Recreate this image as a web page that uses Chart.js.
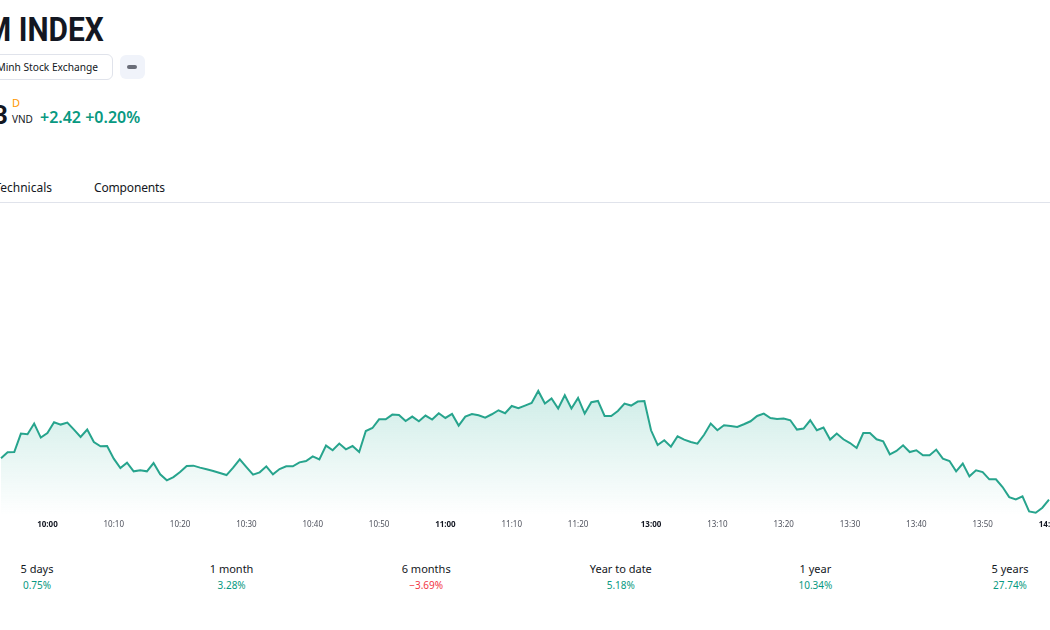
<!DOCTYPE html>
<html><head><meta charset="utf-8">
<script src="https://cdn.jsdelivr.net/npm/chart.js@4.4.1/dist/chart.umd.min.js"></script>
<style>
html,body{margin:0;padding:0;background:#fff;}
body{width:1050px;height:630px;overflow:hidden;position:relative;font-family:"Noto Sans",sans-serif;color:#131722;}
.abs{position:absolute;white-space:nowrap;}
#title{right:946px;top:12px;font:700 34px/34px Roboto,sans-serif;transform:scaleX(0.88);transform-origin:right center;}
#pill{left:-30px;top:54px;width:143px;height:26px;box-sizing:border-box;border:1px solid #e0e3eb;border-radius:6px;}
#exch{right:952px;top:54px;font-size:10.2px;line-height:26px;}
#btn{left:120px;top:55px;width:25px;height:24px;background:#f0f3fa;border-radius:6px;}
#dash{left:127px;top:65px;width:10px;height:4px;background:#6a6d78;border-radius:2px;}
#price{right:1042px;top:102px;font:700 26px/26px Roboto,sans-serif;}
#dmark{left:12px;top:97px;font-size:11px;line-height:11px;color:#ff9800;}
#cur{left:12px;top:114px;font-size:10px;line-height:10px;}
#chg{left:40px;top:110px;font-size:16px;line-height:15px;font-weight:600;color:#089981;}
#tab1{right:998px;top:178px;font-size:12px;line-height:20px;}
#tab2{left:94px;top:178px;font-size:12px;line-height:20px;letter-spacing:-0.15px;}
#rule{left:0;top:202px;width:1050px;height:1px;background:#e0e3eb;}
.st{position:absolute;width:140px;text-align:center;}
.st .l{position:absolute;left:0;width:140px;top:0;font-size:11px;line-height:16px;color:#131722;}
.st .v{position:absolute;left:0;width:140px;top:16px;font-size:10px;line-height:16px;}
#c{position:absolute;left:-39px;top:200px;}
</style>
</head><body>
<div class="abs" id="title">VIETNAM INDEX</div>
<div class="abs" id="pill"></div>
<div class="abs" id="exch">Ho Chi Minh Stock Exchange</div>
<div class="abs" id="btn"></div>
<div class="abs" id="dash"></div>
<div class="abs" id="price">1,209.03</div>
<div class="abs" id="dmark">D</div>
<div class="abs" id="cur">VND</div>
<div class="abs" id="chg">+2.42 +0.20%</div>
<div class="abs" id="tab1">Technicals</div>
<div class="abs" id="tab2">Components</div>
<div class="abs" id="rule"></div>
<div id="stats"></div>
<canvas id="c" width="1128" height="335"></canvas>
<script>
const times = [
"9:53","9:54","9:55","9:56","9:57","9:58","9:59",
"10:00","10:01","10:02","10:03","10:04","10:05","10:06","10:07","10:08","10:09",
"10:10","10:11","10:12","10:13","10:14","10:15","10:16","10:17","10:18","10:19",
"10:20","10:21","10:22","10:23","10:24","10:25","10:26","10:27","10:28","10:29",
"10:30","10:31","10:32","10:33","10:34","10:35","10:36","10:37","10:38","10:39",
"10:40","10:41","10:42","10:43","10:44","10:45","10:46","10:47","10:48","10:49",
"10:50","10:51","10:52","10:53","10:54","10:55","10:56","10:57","10:58","10:59",
"11:00","11:01","11:02","11:03","11:04","11:05","11:06","11:07","11:08","11:09",
"11:10","11:11","11:12","11:13","11:14","11:15","11:16","11:17","11:18","11:19",
"11:20","11:21","11:22","11:23","11:24","11:25","11:26","11:27","11:28","11:29","11:30",
"13:00","13:01","13:02","13:03","13:04","13:05","13:06","13:07","13:08","13:09",
"13:10","13:11","13:12","13:13","13:14","13:15","13:16","13:17","13:18","13:19",
"13:20","13:21","13:22","13:23","13:24","13:25","13:26","13:27","13:28","13:29",
"13:30","13:31","13:32","13:33","13:34","13:35","13:36","13:37","13:38","13:39",
"13:40","13:41","13:42","13:43","13:44","13:45","13:46","13:47","13:48","13:49",
"13:50","13:51","13:52","13:53","13:54","13:55","13:56","13:57","13:58","13:59",
"14:00"];
const values = [
1213.20,1213.80,1213.83,1215.67,1215.60,1216.67,1215.27,1215.73,1216.80,1216.57,
1216.77,1216.07,1215.33,1216.07,1214.83,1214.40,1214.43,1213.17,1212.23,1212.77,
1211.90,1212.00,1211.90,1212.73,1211.60,1211.00,1211.33,1211.83,1212.43,1212.47,
1212.27,1212.10,1211.93,1211.73,1211.53,1212.27,1213.10,1212.33,1211.57,1211.80,
1212.40,1211.60,1212.13,1212.40,1212.40,1212.80,1212.93,1213.40,1213.10,1214.47,
1214.00,1214.67,1214.10,1214.43,1213.83,1215.93,1216.23,1217.10,1217.10,1217.57,
1217.53,1216.93,1217.37,1216.90,1217.47,1217.07,1217.70,1217.23,1217.63,1216.47,
1217.37,1217.63,1217.50,1217.27,1217.60,1218.00,1217.70,1218.43,1218.20,1218.47,
1218.73,1219.93,1218.67,1219.17,1218.17,1219.50,1218.17,1219.23,1217.67,1218.80,
1218.93,1217.43,1217.43,1217.93,1218.67,1218.47,1218.87,1218.93,1216.00,1214.53,
1215.00,1214.37,1215.40,1215.07,1214.83,1214.67,1215.55,1216.67,1216.00,1216.50,
1216.43,1216.33,1216.60,1216.90,1217.43,1217.67,1217.23,1217.13,1217.17,1217.00,
1216.07,1216.17,1217.00,1216.00,1216.27,1215.07,1215.67,1215.10,1214.73,1214.23,
1215.73,1215.73,1215.10,1214.90,1213.60,1213.93,1214.50,1213.83,1214.00,1213.50,
1213.50,1214.07,1213.17,1212.93,1211.90,1212.67,1211.40,1212.00,1211.83,1211.10,
1211.10,1210.33,1209.33,1209.10,1209.40,1207.90,1207.77,1208.27,1209.07];
const tickLabels = ["10:00","10:10","10:20","10:30","10:40","10:50","11:00","11:10","11:20",
"13:00","13:10","13:20","13:30","13:40","13:50","14:00"];
const boldTicks = ["10:00","11:00","13:00","14:00"];
const periods = ["5 days","1 month","6 months","Year to date","1 year","5 years"];
const changes = ["0.75%","3.28%","\u22123.69%","5.18%","10.34%","27.74%"];
const yMin = 1207.5, yMax = 1238;

// performance strip
const stats = document.getElementById('stats');
periods.forEach((p,k)=>{
  const d = document.createElement('div');
  d.className='st';
  d.style.left = (37 + 194.6*k - 70) + 'px';
  d.style.top = '561px';
  const neg = changes[k].startsWith('\u2212');
  d.innerHTML = '<div class="l">'+p+'</div><div class="v" style="color:'+(neg?'#f23645':'#089981')+'">'+changes[k]+'</div>';
  stats.appendChild(d);
});

Chart.defaults.font.family = '"Noto Sans", sans-serif';
const ctx = document.getElementById('c').getContext('2d');
new Chart(ctx, {
  type: 'line',
  data: {
    labels: times,
    datasets: [{
      data: values,
      borderColor: '#27a48d',
      borderWidth: 2,
      pointRadius: 0,
      tension: 0,
      fill: 'start',
      backgroundColor: (c) => {
        const ch = c.chart, a = ch.chartArea;
        if (!a) return 'rgba(34,171,148,0.1)';
        const top = ch.scales.y.getPixelForValue(Math.max(...values));
        const g = ch.ctx.createLinearGradient(0, top, 0, a.bottom);
        g.addColorStop(0, 'rgba(34,171,148,0.22)');
        g.addColorStop(1, 'rgba(34,171,148,0)');
        return g;
      }
    }]
  },
  options: {
    responsive: false,
    animation: false,
    events: [],
    layout: { padding: { left: 40, right: 40, top: 10, bottom: 0 } },
    plugins: { legend: { display: false }, tooltip: { enabled: false } },
    scales: {
      x: {
        type: 'category',
        offset: false,
        grid: { display: false, drawTicks: false },
        border: { display: false },
        ticks: {
          autoSkip: false, maxRotation: 0, minRotation: 0, padding: 5,
          callback: (v, i) => tickLabels.includes(times[i]) ? times[i] : null,
          color: (c) => (c.tick && boldTicks.includes(c.tick.label)) ? '#131722' : '#50535e',
          font: (c) => ({ size: 8, weight: (c.tick && boldTicks.includes(c.tick.label)) ? '700' : '400' })
        }
      },
      y: { display: false, min: yMin, max: yMax }
    }
  }
});
</script>
</body></html>
